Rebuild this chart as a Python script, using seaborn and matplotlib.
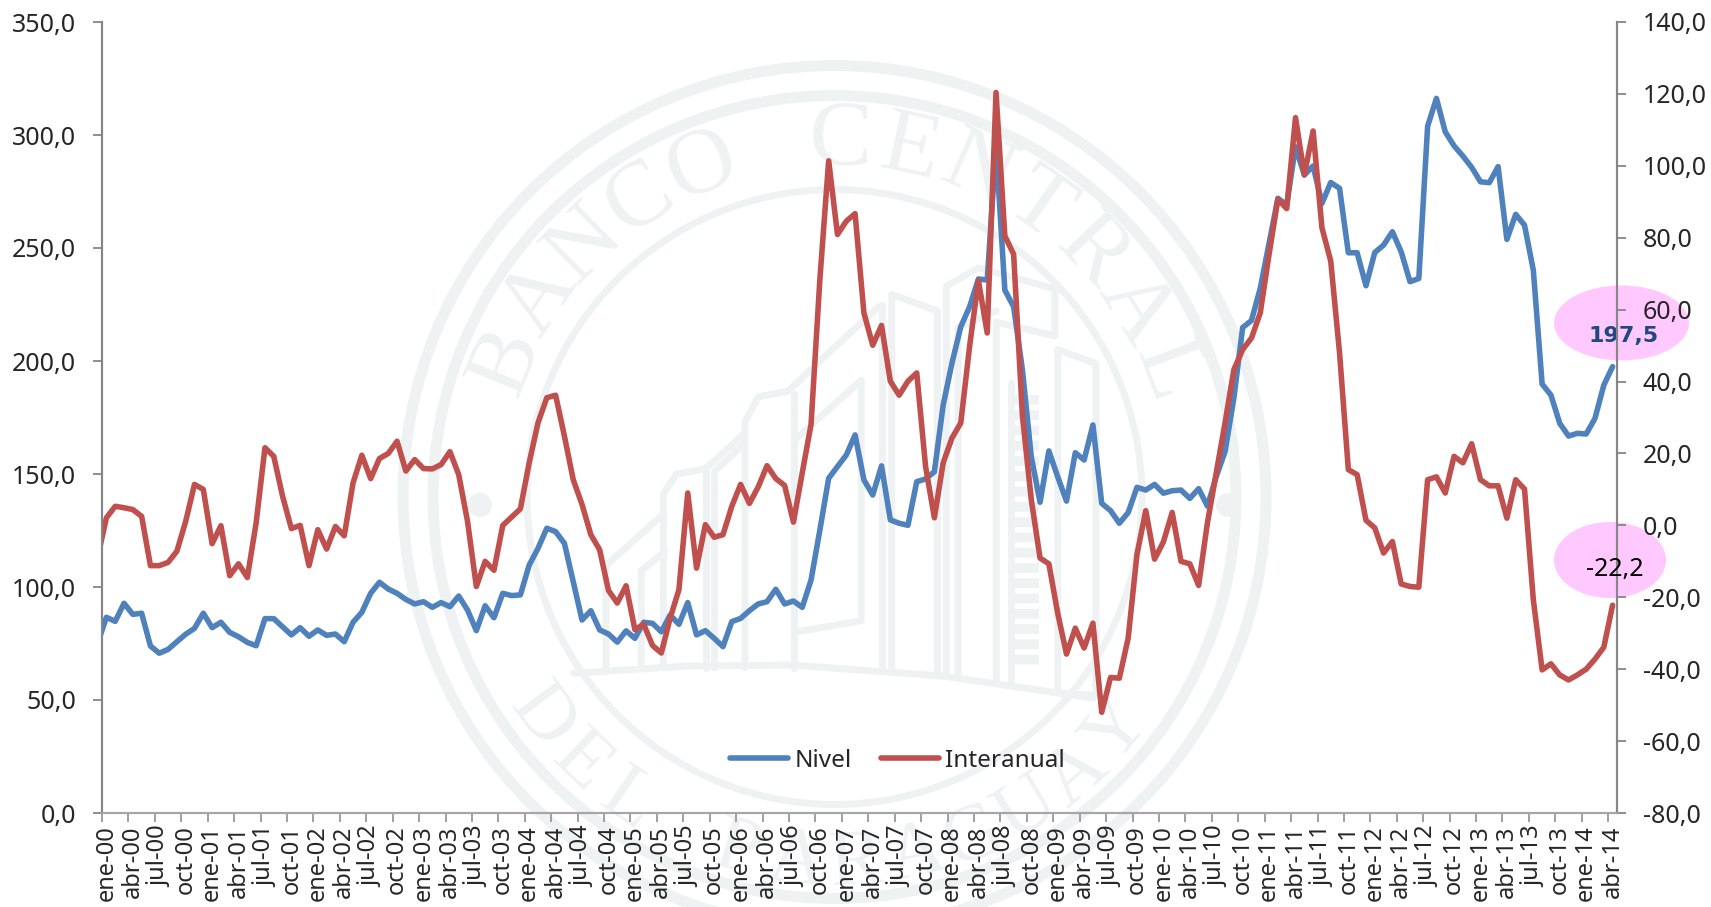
import numpy as np
import pandas as pd
import matplotlib
matplotlib.use('Agg')
import matplotlib.pyplot as plt
from matplotlib.patches import Ellipse, Circle
from matplotlib.ticker import FuncFormatter
import seaborn as sns

# the first value of each series is dic-99, it only shows as the stub cut by the axis
nivel = [75.0,
    86.6, 84.8, 92.8, 87.9, 88.4, 73.9, 70.7, 72.4, 75.8, 79.1, 81.7, 88.4,
    82.0, 84.4, 79.9, 78.0, 75.5, 74.0, 86.0, 86.0, 82.4, 78.8, 82.0, 78.2,
    81.0, 78.6, 79.2, 75.8, 84.4, 88.8, 97.2, 102.1, 99.1, 97.2, 94.5, 92.5,
    93.5, 91.0, 93.1, 91.3, 96.0, 89.8, 80.7, 91.7, 86.4, 97.2, 96.2, 96.5,
    109.7, 117.1, 126.0, 124.5, 119.3, 102.4, 85.4, 89.5, 81.0, 79.2, 75.6, 80.6,
    77.3, 84.4, 83.9, 80.2, 87.6, 83.5, 93.1, 78.8, 80.7, 77.3, 73.6, 84.7,
    86.1, 89.5, 92.5, 93.5, 99.0, 92.5, 93.8, 91.0, 103.1, 125.2, 148.1, 153.3,
    158.4, 167.3, 147.4, 140.7, 153.6, 129.7, 128.2, 127.3, 146.6, 147.8, 151.0, 180.5,
    199.1, 215.2, 224.0, 236.3, 235.8, 295.0, 231.4, 224.0, 196.0, 157.6, 137.5, 160.2,
    148.8, 138.0, 159.4, 156.2, 171.7, 137.0, 133.8, 128.2, 132.9, 144.1, 142.9, 145.4,
    141.5, 142.6, 142.9, 139.2, 143.5, 135.8, 148.8, 159.9, 183.5, 214.8, 217.9, 232.2,
    252.0, 272.0, 269.0, 294.8, 282.3, 286.3, 269.7, 279.0, 276.4, 247.9, 247.9, 233.3,
    248.0, 251.3, 257.2, 248.3, 235.1, 236.5, 303.9, 316.2, 301.4, 295.2, 290.7, 285.7,
    279.3, 278.9, 286.0, 253.8, 264.9, 260.1, 240.2, 189.8, 184.9, 172.4, 166.8, 168.0,
    167.7, 174.6, 189.3, 197.5]
interanual = [-9.0,
    2.1, 5.3, 4.9, 4.4, 2.5, -11.2, -11.2, -10.3, -7.2, 1.1, 11.4, 10.0,
    -5.1, -0.1, -14.0, -10.7, -14.5, 0.7, 21.6, 19.2, 8.1, -0.9, 0.0, -11.2,
    -1.2, -6.6, -0.3, -2.9, 11.8, 19.5, 13.0, 18.6, 20.0, 23.4, 15.1, 18.3,
    15.8, 15.7, 16.9, 20.5, 14.1, 1.1, -17.0, -10.0, -12.5, 0.0, 2.3, 4.6,
    17.4, 28.5, 35.5, 36.2, 24.8, 12.7, 5.8, -2.6, -6.8, -18.1, -21.6, -16.8,
    -29.0, -27.5, -33.4, -35.5, -25.8, -17.9, 9.0, -11.9, 0.2, -3.3, -2.6, 5.3,
    11.4, 6.1, 10.7, 16.6, 13.0, 11.1, 0.9, 14.6, 28.1, 68.4, 101.4, 80.9,
    84.6, 86.7, 59.1, 50.1, 55.6, 40.1, 36.2, 40.1, 42.4, 16.4, 2.1, 17.4,
    24.3, 28.5, 49.8, 68.1, 53.5, 120.4, 80.5, 75.4, 30.4, 7.2, -9.1, -10.7,
    -24.4, -35.8, -28.6, -34.1, -27.2, -52.0, -42.3, -42.5, -31.4, -8.1, 4.1, -9.4,
    -4.6, 3.6, -10.0, -10.7, -16.7, 0.7, 14.6, 28.5, 43.3, 48.9, 52.1, 59.1,
    75.4, 90.7, 88.1, 113.4, 97.5, 109.7, 82.8, 73.5, 48.0, 15.5, 14.1, 1.4,
    -0.7, -7.7, -4.5, -16.3, -17.0, -17.2, 12.7, 13.5, 9.0, 19.2, 17.4, 22.7,
    12.7, 11.0, 11.0, 2.0, 12.7, 10.1, -20.7, -40.2, -38.5, -41.6, -43.0, -41.6,
    -40.0, -37.2, -33.9, -22.2]
meses = ['ene', 'abr', 'jul', 'oct']
anios = ['00', '01', '02', '03', '04', '05', '06', '07', '08', '09', '10', '11', '12', '13', '14']

df = pd.DataFrame({'mes': range(-1, 171 + 1), 'nivel': nivel, 'interanual': interanual})
etiquetas = [f'{m}-{a}' for a in anios for m in meses][:58]

sns.set_style('white')
plt.rcParams['font.family'] = ['Noto Sans', 'DejaVu Sans']
W, H = 1711, 907
fig = plt.figure(figsize=(W / 100, H / 100), dpi=100)

# background layer in pixels: seal and pink ellipses
bg = fig.add_axes([0, 0, 1, 1])
bg.set_xlim(0, W)
bg.set_ylim(H, 0)
bg.axis('off')
sello = '#EEF2F3'
cx, cy = 834.5, 497
for r, ancho in [(431.5, 11), (401.5, 11), (307.5, 7)]:
    bg.add_patch(Circle((cx, cy), r, fill=False, ec=sello, lw=ancho * 0.72))
for x in [480, 1228]:
    bg.add_patch(Circle((x, 505), 12, fc=sello, ec='none'))
for i, c in enumerate('BANCO CENTRAL'):
    t = np.radians(-67.5 + i * 11.4)
    bg.text(cx + 355 * np.sin(t), cy - 355 * np.cos(t), c, rotation=-np.degrees(t), ha='center', va='center',
            family='Liberation Serif', fontsize=68, color=sello, rotation_mode='anchor')
for i, c in enumerate('DEL PARAGUAY'):
    t = np.radians(-53 + i * 9.4)
    bg.text(cx + 368 * np.sin(t), cy + 368 * np.cos(t), c, rotation=np.degrees(t), ha='center', va='center',
            family='Liberation Serif', fontsize=58, color=sello, rotation_mode='anchor')

# building outline, traced on a 1.704 x 1.808 enlargement starting at (380, 40)
edificio = [
    [(330, 1145), (520, 1132), (700, 1130), (960, 1150), (1215, 1190)],
    [(385, 1135), (385, 950), (480, 860)],
    [(445, 1130), (445, 960), (485, 925)],
    [(483, 1135), (483, 820), (505, 785), (555, 775), (620, 712)],
    [(555, 1135), (555, 775)],
    [(570, 1135), (570, 780), (620, 730)],
    [(622, 1135), (622, 690), (645, 645), (695, 635), (760, 570), (850, 482)],
    [(705, 1135), (705, 640)],
    [(710, 1070), (820, 1050), (820, 615), (710, 720)],
    [(855, 1140), (855, 480)],
    [(872, 1140), (872, 460), (950, 490), (950, 1150)],
    [(965, 1150), (965, 445), (1020, 412), (1150, 450), (1150, 535)],
    [(985, 1150), (985, 520), (1050, 490)],
    [(1050, 1160), (1050, 510), (1150, 535)],
    [(1155, 560), (1220, 585), (1220, 1185), (1155, 1180), (1155, 560)],
    [(1075, 620), (1075, 1165)],
]
for trazo in edificio:
    px = [380 + p[0] / 1.704 for p in trazo]
    py = [40 + p[1] / 1.808 for p in trazo]
    bg.plot(px, py, color=sello, lw=5, solid_joinstyle='round')
bg.plot([1025, 1025], [395, 665], color=sello, lw=20, dashes=(0.35, 0.2))

bg.add_patch(Ellipse((1621.5, 323), 135, 75, fc='#FFC9FF', ec='none'))
bg.add_patch(Ellipse((1610, 560), 112, 76, fc='#FFC9FF', ec='none'))

# chart axes
ax = fig.add_axes([102 / W, (H - 813) / H, 1515 / W, 791 / H])
ax.patch.set_alpha(0)
sns.lineplot(data=df, x='mes', y='nivel', ax=ax, color='#4F81BD', lw=4, label='Nivel', legend=False)
ax2 = ax.twinx()
ax2.patch.set_alpha(0)
sns.lineplot(data=df, x='mes', y='interanual', ax=ax2, color='#C0504D', lw=4, label='Interanual', legend=False)

coma = FuncFormatter(lambda v, p: f'{v:.1f}'.replace('.', ','))
ax.set_ylim(0, 350)
ax.set_yticks(np.arange(0, 351, 50))
ax.yaxis.set_major_formatter(coma)
ax2.set_ylim(-80, 140)
ax2.set_yticks(np.arange(-80, 141, 20))
ax2.yaxis.set_major_formatter(coma)

ax.set_xlim(-0.5, 171.5)
# ticks sit between categories, labels on the categories
ax.set_xticks(np.arange(-0.5, 172, 3))
ax.set_xticklabels([])
ax.set_xticks(np.arange(0, 172, 3), minor=True)
ax.set_xticklabels(etiquetas, minor=True, rotation=90, fontsize=17)
ax.tick_params(axis='x', which='minor', length=0, pad=9)
ax.tick_params(axis='x', which='major', length=6.5, width=1.3, color='#999999', bottom=True)
ax.tick_params(axis='y', length=6.5, width=1.3, color='#868686', left=True, labelsize=18, pad=12)
ax2.tick_params(axis='y', length=6.5, width=1.3, color='#868686', right=True, labelsize=18, pad=12)
ax.set_xlabel('')
ax.set_ylabel('')
ax2.set_ylabel('')

for a in (ax, ax2):
    for lado, s in a.spines.items():
        s.set_visible(lado != 'top')
        s.set_color('#868686')
        s.set_linewidth(1.5)
    a.spines['bottom'].set_color('#A6A6A6')

ax.annotate('197,5', xy=(171, 197.5), xytext=(8, 22), textcoords='offset points', ha='center', va='center',
            fontsize=16, fontweight='bold', family='DejaVu Sans', color='#1F497D', annotation_clip=False)
ax2.annotate('-22,2', xy=(171, -22.2), xytext=(1.5, 25.5), textcoords='offset points', ha='center', va='center',
             fontsize=18, color='black', annotation_clip=False)

h1, l1 = ax.get_legend_handles_labels()
h2, l2 = ax2.get_legend_handles_labels()
ax2.legend(h1 + h2, l1 + l2, loc='center', bbox_to_anchor=(0.525, 0.066), ncol=2, frameon=False, fontsize=17.5,
           handlelength=2.4, handletextpad=0.25, columnspacing=1.2)

fig.savefig('out.png', dpi=100)
